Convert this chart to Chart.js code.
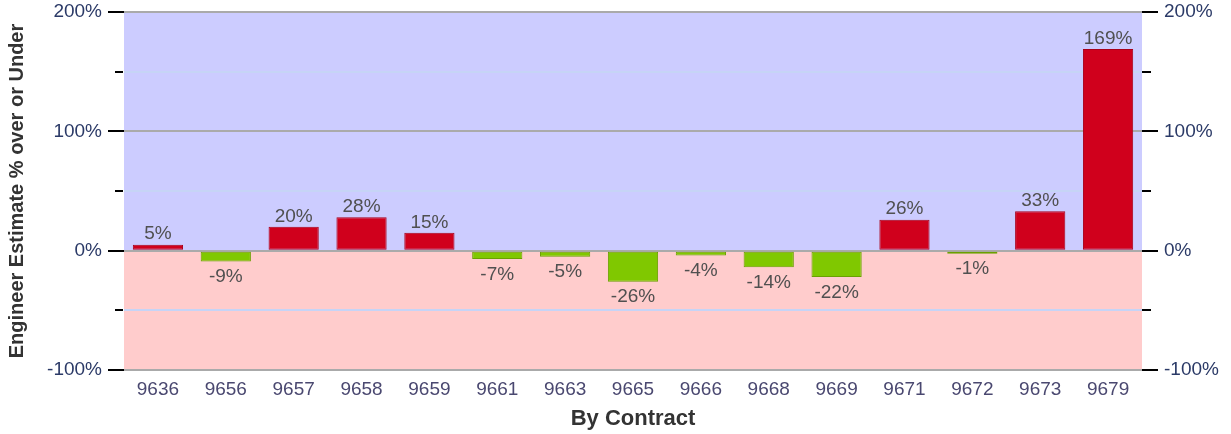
<!DOCTYPE html>
<html>
<head>
<meta charset="utf-8">
<script src="https://cdn.jsdelivr.net/npm/chart.js@4/dist/chart.umd.min.js"></script>
<style>
  html, body { margin: 0; padding: 0; background: #fff; }
  #wrap { width: 1231px; height: 434px; }
</style>
</head>
<body>
<div id="wrap"><canvas id="chart"></canvas></div>
<script>
const contracts = ['9636', '9656', '9657', '9658', '9659', '9661', '9663', '9665', '9666', '9668', '9669', '9671', '9672', '9673', '9679']
const overUnder = [5, -9, 20, 28, 15, -7, -5, -26, -4, -14, -22, 26, -1, 33, 169]
const yTicks = [-100, -50, 0, 50, 100, 150, 200]

const RED = '#d0001c'
const GREEN = '#80c800'
const FONT = '"Liberation Sans", Arial, sans-serif'

// blue above zero, pink below
const bandsPlugin = {
    id: 'bands',
    beforeDraw(chart) {
        const { ctx, chartArea: a, scales: { y } } = chart
        const zero = y.getPixelForValue(0)
        ctx.save()
        ctx.fillStyle = '#ccccff'
        ctx.fillRect(a.left, a.top, a.right - a.left, zero - a.top)
        ctx.fillStyle = '#ffcccc'
        ctx.fillRect(a.left, zero, a.right - a.left, a.bottom - zero)
        ctx.restore()
    }
}

// black tick marks on both sides, long for labelled ticks
const tickMarksPlugin = {
    id: 'tickMarks',
    afterDraw(chart) {
        const { ctx, chartArea: a, scales: { y } } = chart
        ctx.save()
        ctx.strokeStyle = '#000'
        ctx.lineWidth = 2
        yTicks.forEach(v => {
            const py = Math.round(y.getPixelForValue(v))
            const major = v % 100 === 0
            ctx.beginPath()
            ctx.moveTo(a.left - (major ? 16 : 9), py)
            ctx.lineTo(a.left - (major ? 0 : 1), py)
            ctx.moveTo(a.right, py)
            ctx.lineTo(a.right + (major ? 16 : 9), py)
            ctx.stroke()
        })
        ctx.restore()
    }
}

const valueLabelsPlugin = {
    id: 'valueLabels',
    afterDatasetsDraw(chart) {
        const { ctx } = chart
        const meta = chart.getDatasetMeta(0)
        ctx.save()
        ctx.font = '19px ' + FONT
        ctx.fillStyle = '#505050'
        ctx.textAlign = 'center'
        meta.data.forEach((bar, i) => {
            const v = overUnder[i]
            if (v >= 0) {
                ctx.textBaseline = 'bottom'
                ctx.fillText(v + '%', bar.x, bar.y - 1)
            } else {
                ctx.textBaseline = 'top'
                ctx.fillText(v + '%', bar.x, bar.y + 6)
            }
        })
        ctx.restore()
    }
}

const yAxis = (position) => ({
    position,
    min: -100,
    max: 200,
    afterBuildTicks: (scale) => { scale.ticks = yTicks.map(v => ({ value: v })) },
    afterFit: (scale) => {
        scale.width = position === 'left' ? 124 : 89
        scale.paddingTop = 0
        scale.paddingBottom = 0
    },
    border: { display: false },
    grid: {
        drawOnChartArea: position === 'left',
        drawTicks: false,
        lineWidth: 2,
        color: (ctx) => ctx.tick && ctx.tick.value % 100 === 0 ? '#aaaaaa' : '#c6d4f6'
    },
    ticks: {
        padding: 22,
        color: '#2b3a67',
        font: { family: FONT, size: 19 },
        callback: (v) => v % 100 === 0 ? v + '%' : ''
    },
    title: {
        display: position === 'left',
        text: 'Engineer Estimate % over or Under',
        color: '#333',
        font: { family: FONT, size: 20, weight: 'bold' },
        padding: { top: 5, bottom: 0 }
    }
})

new Chart(document.getElementById('chart'), {
    type: 'bar',
    data: {
        labels: contracts,
        datasets: [{
            data: overUnder,
            backgroundColor: overUnder.map(v => v >= 0 ? RED : GREEN),
            borderColor: overUnder.map(v => v >= 0 ? '#a8001a' : '#6aa000'),
            borderWidth: 1,
            borderSkipped: false,
            minBarLength: 3,
            barPercentage: 0.74,
            categoryPercentage: 1
        }]
    },
    options: {
        responsive: true,
        maintainAspectRatio: false,
        animation: false,
        layout: { padding: { top: 12, left: 0, right: 0, bottom: 0 } },
        plugins: { legend: { display: false }, tooltip: { enabled: false } },
        scales: {
            x: {
                afterFit: (scale) => { scale.height = 64 },
                border: { display: false },
                grid: { display: false, drawTicks: false },
                ticks: {
                    padding: 8,
                    color: '#4a4870',
                    font: { family: FONT, size: 19 },
                    maxRotation: 0
                },
                title: {
                    display: true,
                    text: 'By Contract',
                    color: '#333',
                    font: { family: FONT, size: 22, weight: 'bold' },
                    padding: { top: 0, bottom: 2 }
                }
            },
            y: yAxis('left'),
            y2: yAxis('right')
        }
    },
    plugins: [bandsPlugin, tickMarksPlugin, valueLabelsPlugin]
})
</script>
</body>
</html>
